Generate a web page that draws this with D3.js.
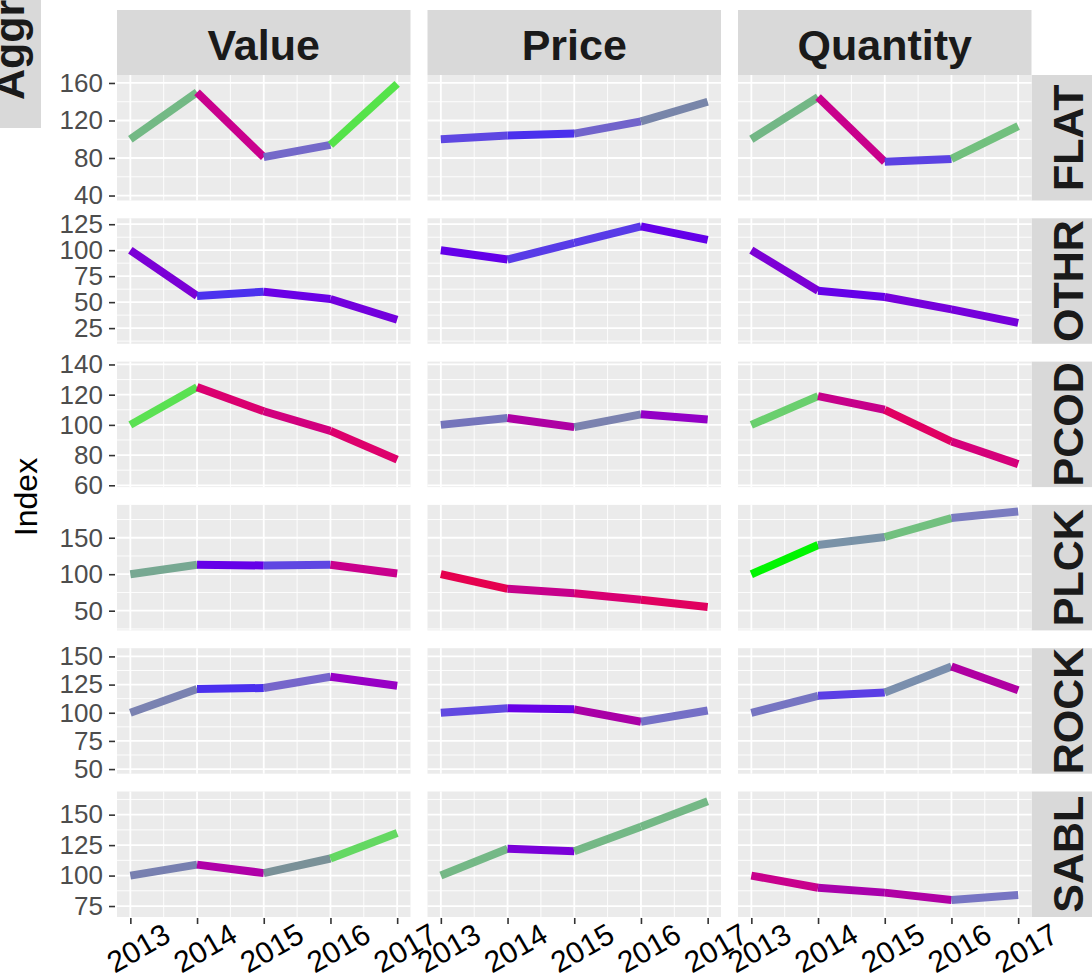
<!DOCTYPE html>
<html><head><meta charset="utf-8">
<script src="https://cdn.jsdelivr.net/npm/d3@7"></script>
<style>body{margin:0;background:#fff}svg{display:block}text{font-family:"Liberation Sans",Arial,sans-serif}</style>
</head><body>
<script>
const years = [2013, 2014, 2015, 2016, 2017];
const measures = ["Value", "Price", "Quantity"];
const species = ["FLAT", "OTHR", "PCOD", "PLCK", "ROCK", "SABL"];

// index values per species: [Value, Price, Quantity]
const FLAT = [[100,150,81,94,159],[100,104,106,119,140],[100,145,76,79,114]];
const OTHR = [[100,56,60,53,33],[100,91,107,123,110],[100,61,55,43,30]];
const PCOD = [[100,125,109,96,77],[100,104.5,98.5,107,103.5],[100,119,110,89,74]];
const PLCK = [[100,113,112,113,101],[100,80,74,65,55],[100,140,151,177,186]];
const ROCK = [[100,121,122,132,124],[100,104,103,92,102],[100,115,118,141,120]];
const SABL = [[100,109,102,114,135],[100,122,120,140,161],[100,90,86,80,84]];

// segment colours (2013-14, 14-15, 15-16, 16-17)
const FLAT_col = [["#73B985","#C9008D","#7469C9","#55E34A"],["#5E47E2","#4A30ED","#7164CB","#7885A9"],["#73B786","#C9008C","#5B42E3","#72C07E"]];
const OTHR_col = [["#7B00D6","#4B31EE","#6A00E6","#7300DD"],["#6400E9","#583BE7","#583BE7","#6400E9"],["#7C00D5","#6500E8","#7600DB","#7600DB"]];
const PCOD_col = [["#5AE152","#DA0070","#D1007E","#DD006C"],["#7575BB","#AE00A3","#7B82AF","#9300C6"],["#6ACF6E","#C6008A","#E00062","#D5007A"]];
const PLCK_col = [["#77A892","#6500E8","#5F47E2","#C9008D"],["#E5004E","#C6008B","#D80072","#E0005F"],["#00F500","#7992A7","#72C07F","#7A7BC0"]];
const ROCK_col = [["#7A82B1","#4A2FEE","#7666CB","#9800C5"],["#6149E1","#6700E7","#A900A6","#7570C6"],["#7675C2","#5B3FE5","#7A8FAD","#B000A2"]];
const SABL_col = [["#7880B0","#B000A8","#7A9198","#64D862"],["#74B886","#7A00D8","#74B886","#74B886"],["#C8008C","#A800AB","#B000A4","#7775C3"]];

// y tick labels per row and y limits per row
const FLAT_ticks = [40,80,120,160];
const OTHR_ticks = [25,50,75,100,125];
const PCOD_ticks = [60,80,100,120,140];
const PLCK_ticks = [50,100,150];
const ROCK_ticks = [50,75,100,125,150];
const SABL_ticks = [75,100,125,150];
const FLAT_lim = [34.7,168.5];
const OTHR_lim = [9.9,130.7];
const PCOD_lim = [58.8,141.9];
const PLCK_lim = [23,195];
const ROCK_lim = [45.9,157.3];
const SABL_lim = [66,169];

const rowData = [FLAT, OTHR, PCOD, PLCK, ROCK, SABL];
const rowCols = [FLAT_col, OTHR_col, PCOD_col, PLCK_col, ROCK_col, SABL_col];
const rowTicks = [FLAT_ticks, OTHR_ticks, PCOD_ticks, PLCK_ticks, ROCK_ticks, SABL_ticks];
const rowLims = [FLAT_lim, OTHR_lim, PCOD_lim, PLCK_lim, ROCK_lim, SABL_lim];

const W = 1092, H = 980;
const svg = d3.select("body").append("svg").attr("width", W).attr("height", H);

const colLeft = [117, 427.5, 738], pw = 293.5;
const rowTop0 = 75, ph = 125.5, rgap = 17.8;
const rowTop = i => rowTop0 + i * (ph + rgap);

// Aggr strip (top-left, clipped)
svg.append("rect").attr("x", 0).attr("y", 0).attr("width", 41).attr("height", 128).attr("fill", "#D9D9D9");
svg.append("text").attr("transform", "translate(24,100) rotate(-90)")
  .attr("font-size", 43).attr("font-weight", "bold").attr("fill", "#1A1A1A").text("Aggr");

// top strips
measures.forEach((m, j) => {
  svg.append("rect").attr("x", colLeft[j]).attr("y", 10).attr("width", pw).attr("height", 65).attr("fill", "#D9D9D9");
  svg.append("text").attr("x", colLeft[j] + pw / 2).attr("y", 60).attr("text-anchor", "middle")
    .attr("font-size", 43).attr("font-weight", "bold").attr("fill", "#1A1A1A").text(m);
});

species.forEach((sp, i) => {
  const top = rowTop(i);
  const y = d3.scaleLinear().domain(rowLims[i]).range([top + ph, top]);
  const ticks = rowTicks[i];
  const step = ticks[1] - ticks[0];
  const minors = [];
  for (let k = -1; k < ticks.length; k++) {
    const v = ticks[0] + step * k + step / 2;
    if (v > rowLims[i][0] && v < rowLims[i][1]) minors.push(v);
  }
  // right strip
  svg.append("rect").attr("x", colLeft[2] + pw).attr("y", top).attr("width", 64).attr("height", ph).attr("fill", "#D9D9D9");
  svg.append("text").attr("transform", `translate(1083,${top + ph / 2}) rotate(-90)`).attr("text-anchor", "middle")
    .attr("font-size", 43).attr("font-weight", "bold").attr("fill", "#1A1A1A").text(sp);

  // y axis
  const yAxis = d3.axisLeft(y).tickValues(ticks).tickSize(6).tickPadding(6);
  const ga = svg.append("g").attr("transform", `translate(${colLeft[0] - 2},0)`).call(yAxis);
  ga.select(".domain").remove();
  ga.selectAll(".tick line").attr("stroke", "#333").attr("stroke-width", 1.6);
  ga.selectAll(".tick text").attr("font-size", 26).attr("fill", "#4D4D4D").attr("font-family", '"Liberation Sans",Arial,sans-serif');

  measures.forEach((m, j) => {
    const left = colLeft[j];
    const x = d3.scaleLinear().domain([2012.8, 2017.2]).range([left, left + pw]);
    const g = svg.append("g");
    g.append("rect").attr("x", left).attr("y", top).attr("width", pw).attr("height", ph).attr("fill", "#EBEBEB");
    // minor grid
    minors.forEach(v => g.append("line").attr("x1", left).attr("x2", left + pw).attr("y1", y(v)).attr("y2", y(v)).attr("stroke", "#fff").attr("stroke-width", 0.9));
    [2013.5, 2014.5, 2015.5, 2016.5].forEach(v => g.append("line").attr("x1", x(v)).attr("x2", x(v)).attr("y1", top).attr("y2", top + ph).attr("stroke", "#fff").attr("stroke-width", 0.9));
    // major grid
    ticks.forEach(v => g.append("line").attr("x1", left).attr("x2", left + pw).attr("y1", y(v)).attr("y2", y(v)).attr("stroke", "#fff").attr("stroke-width", 1.8));
    years.forEach(v => g.append("line").attr("x1", x(v)).attr("x2", x(v)).attr("y1", top).attr("y2", top + ph).attr("stroke", "#fff").attr("stroke-width", 1.8));
    // segments
    const vals = rowData[i][j], cols = rowCols[i][j];
    for (let k = 0; k < years.length - 1; k++) {
      g.append("line").attr("x1", x(years[k])).attr("y1", y(vals[k])).attr("x2", x(years[k + 1])).attr("y2", y(vals[k + 1]))
        .attr("stroke", cols[k]).attr("stroke-width", 8).attr("stroke-linecap", "butt");
    }
    if (i === species.length - 1) {
      const xAxis = d3.axisBottom(x).tickValues(years).tickFormat(d3.format("d")).tickSize(6).tickPadding(4);
      const gx = svg.append("g").attr("transform", `translate(0,${top + ph + 1})`).call(xAxis);
      gx.select(".domain").remove();
      gx.selectAll(".tick line").attr("stroke", "#333").attr("stroke-width", 1.6);
      gx.selectAll(".tick text").remove();
      years.forEach(v => {
        svg.append("text").attr("transform", `translate(${x(v) + 8},948) rotate(-30)`)
          .attr("text-anchor", "middle").attr("dominant-baseline", "central")
          .attr("font-size", 30).attr("fill", "#000").text(v);
      });
    }
  });
});

// y title
svg.append("text").attr("transform", `translate(37,497) rotate(-90)`).attr("text-anchor", "middle")
  .attr("font-size", 32).attr("fill", "#000").text("Index");
</script>
</body></html>
